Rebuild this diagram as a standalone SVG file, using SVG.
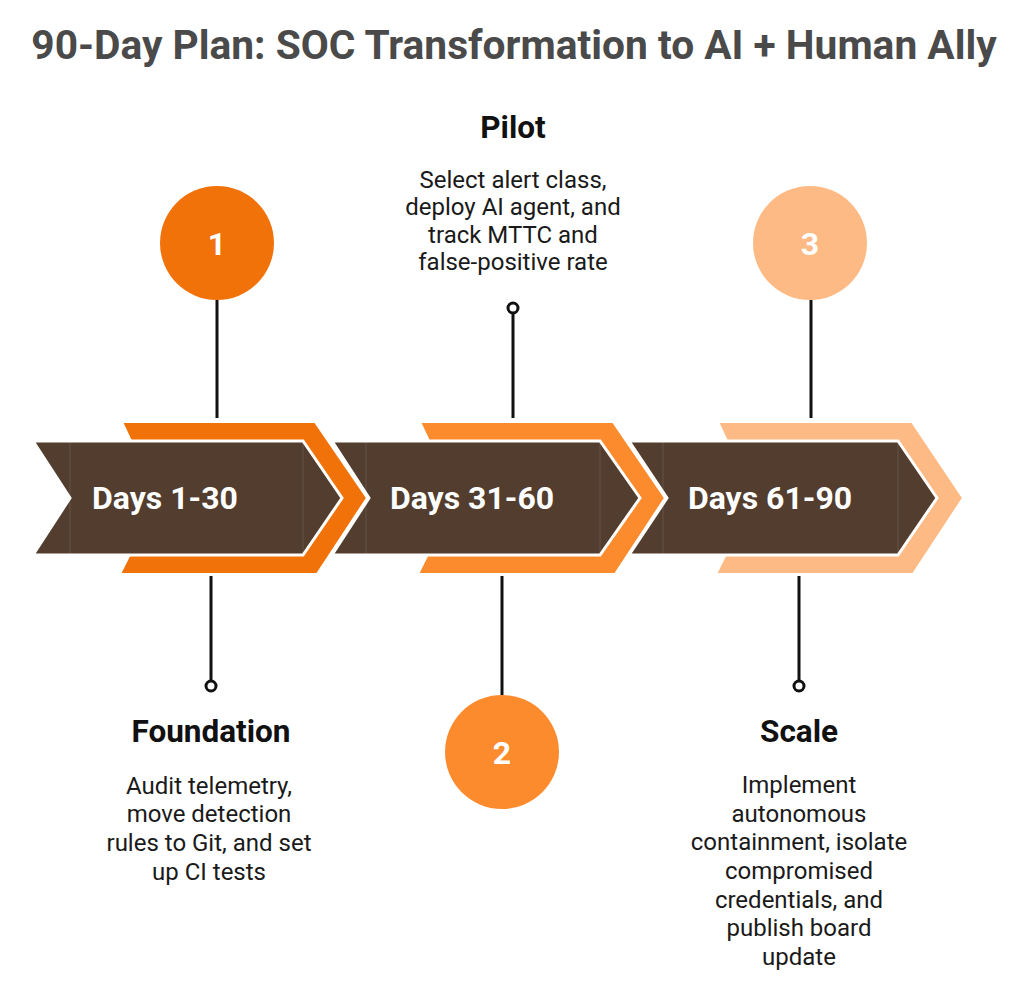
<svg xmlns="http://www.w3.org/2000/svg" width="1024" height="1002" viewBox="0 0 1024 1002">
  <style>
    .title { font-family: Roboto, "Liberation Sans", sans-serif; font-weight: 700; font-size: 40.7px; fill: #4a4a4a; text-anchor: middle; }
    .head { font-family: Roboto, "Liberation Sans", sans-serif; font-weight: 700; font-size: 31.5px; fill: #111111; text-anchor: middle; }
    .desc { font-family: Roboto, "Liberation Sans", sans-serif; font-weight: 400; font-size: 24px; fill: #1a1a1a; text-anchor: middle; }
    .days { font-family: Roboto, "Liberation Sans", sans-serif; font-weight: 700; font-size: 32px; fill: #ffffff; text-anchor: middle; }
    .num { font-family: Roboto, "Liberation Sans", sans-serif; font-weight: 700; font-size: 32px; fill: #ffffff; text-anchor: middle; }
    .brown { fill: #523d2e; stroke: #ffffff; stroke-width: 3; stroke-linejoin: miter; }
    .seam { stroke: #ffffff; stroke-opacity: 0.12; stroke-width: 1; }
    .o1 { fill: #f2720a; stroke: #ffffff; stroke-width: 2; }
    .o2 { fill: #fc8b2e; stroke: #ffffff; stroke-width: 2; }
    .o3 { fill: #fdba84; stroke: #ffffff; stroke-width: 2; }
    .stem { stroke: #111111; stroke-width: 3; fill: none; }
    .dot { fill: #ffffff; stroke: #111111; stroke-width: 3; }
  </style>

  <text class="title" x="514" y="59">90-Day Plan: SOC Transformation to AI + Human Ally</text>

  <g id="connectors">
    <line class="stem" x1="217" y1="300" x2="217" y2="418"/>
    <line class="stem" x1="811" y1="300" x2="811" y2="418"/>
    <line class="stem" x1="502" y1="576" x2="502" y2="695"/>
    <line class="stem" x1="513" y1="313" x2="513" y2="418"/>
    <circle class="dot" cx="513" cy="308" r="5"/>
    <line class="stem" x1="211" y1="576" x2="211" y2="681"/>
    <circle class="dot" cx="211" cy="686" r="5"/>
    <line class="stem" x1="799" y1="576" x2="799" y2="681"/>
    <circle class="dot" cx="799" cy="686" r="5"/>
  </g>

  <g id="stage1">
    <polygon class="o1" points="122,422 315,422 367,498 317,574 120,574 158,498"/>
    <polygon class="brown" points="33,441 303,441 342,498 303,555 33,555 70,498"/>
    <line class="seam" x1="70" y1="442" x2="70" y2="554"/>
    <line class="seam" x1="303" y1="442" x2="303" y2="554"/>
    <text class="days" x="165" y="509">Days 1-30</text>
  </g>

  <g id="stage2">
    <polygon class="o2" points="420,422 613,422 665,498 615,574 418,574 456,498"/>
    <polygon class="brown" points="332,441 600,441 640,498 600,555 332,555 369,498"/>
    <line class="seam" x1="366" y1="442" x2="366" y2="554"/>
    <line class="seam" x1="600" y1="442" x2="600" y2="554"/>
    <text class="days" x="472" y="509">Days 31-60</text>
  </g>

  <g id="stage3">
    <polygon class="o3" points="718,422 912,422 963,498 913,574 716,574 754,498"/>
    <polygon class="brown" points="629,441 898,441 937,498 898,555 629,555 667,498"/>
    <line class="seam" x1="663" y1="442" x2="663" y2="554"/>
    <line class="seam" x1="898" y1="442" x2="898" y2="554"/>
    <text class="days" x="770" y="509">Days 61-90</text>
  </g>

  <g id="badge1">
    <circle cx="217" cy="243" r="57" fill="#f2720a"/>
    <text class="num" x="217" y="255">1</text>
  </g>
  <g id="badge2">
    <circle cx="502" cy="752" r="57" fill="#fc8b2e"/>
    <text class="num" x="502" y="764">2</text>
  </g>
  <g id="badge3">
    <circle cx="810" cy="243" r="57" fill="#fdba84"/>
    <text class="num" x="810" y="255">3</text>
  </g>

  <g id="pilot">
    <text class="head" x="513" y="138">Pilot</text>
    <text class="desc" x="513" y="188">Select alert class,</text>
    <text class="desc" x="513" y="215">deploy AI agent, and</text>
    <text class="desc" x="513" y="243">track MTTC and</text>
    <text class="desc" x="513" y="270">false-positive rate</text>
  </g>

  <g id="foundation">
    <text class="head" x="211" y="742">Foundation</text>
    <text class="desc" x="209" y="794">Audit telemetry,</text>
    <text class="desc" x="209" y="822">move detection</text>
    <text class="desc" x="209" y="851">rules to Git, and set</text>
    <text class="desc" x="209" y="880">up CI tests</text>
  </g>

  <g id="scale">
    <text class="head" x="799" y="742">Scale</text>
    <text class="desc" x="799" y="793">Implement</text>
    <text class="desc" x="799" y="822">autonomous</text>
    <text class="desc" x="799" y="850">containment, isolate</text>
    <text class="desc" x="799" y="879">compromised</text>
    <text class="desc" x="799" y="908">credentials, and</text>
    <text class="desc" x="799" y="936">publish board</text>
    <text class="desc" x="799" y="965">update</text>
  </g>
</svg>
